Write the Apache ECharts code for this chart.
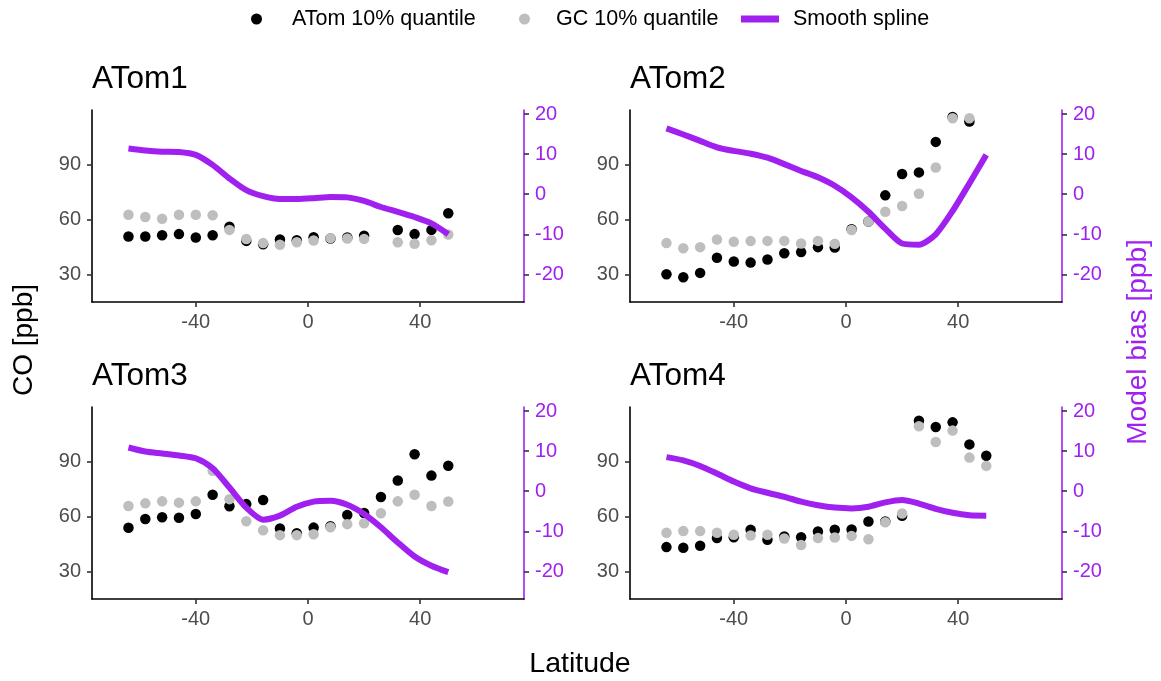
<!DOCTYPE html>
<html>
<head>
<meta charset="utf-8">
<script src="https://cdn.jsdelivr.net/npm/echarts@6/dist/echarts.min.js"></script>
<style>
html, body { margin: 0; padding: 0; background: #fff; }
#chart { width: 1161px; height: 681px; }
</style>
</head>
<body>
<div id="chart"></div>
<script>
// latitude bins (deg)
const lat = [-64, -58, -52, -46, -40, -34, -28, -22, -16, -10, -4, 2, 8, 14, 20, 26, 32, 38, 44, 50];

const atom1 = [50.9, 50.9, 51.6, 52.2, 50.4, 51.6, 56.2, 48.5, 46.7, 49.3, 48.9, 50.5, 49.8, 50.4, 51.3, null, 54.4, 52.2, 54.5, 63.6];
const gc1 = [62.7, 61.5, 60.5, 62.7, 62.7, 62.5, 54.5, 49.5, 47.3, 46.4, 47.8, 48.7, 50.0, 49.8, 49.6, null, 47.8, 46.9, 48.9, 52.0];
const bias1 = [11.4, 10.9, 10.6, 10.5, 9.8, 7.3, 3.9, 1.0, -0.5, -1.2, -1.2, -1.0, -0.7, -0.8, -1.7, -3.2, -4.4, -5.7, -7.3, -10.0];

const atom2 = [30.4, 28.7, 31.1, 39.3, 37.3, 36.7, 38.4, 41.8, 42.4, 45.1, 44.9, 54.9, 59.1, 73.3, 84.9, 85.8, 102.4, 116.0, 113.5, null];
const gc2 = [47.3, 44.5, 45.1, 49.3, 48.0, 48.4, 48.5, 48.5, 47.1, 48.5, 46.9, 54.4, 59.1, 64.4, 67.5, 74.2, 88.5, 115.3, 115.3, null];
const bias2 = [16.4, 14.9, 13.3, 11.7, 10.8, 10.1, 9.1, 7.5, 5.8, 4.2, 2.1, -0.8, -4.4, -8.6, -12.3, -12.6, -10.0, -4.2, 2.7, 9.8];

const atom3 = [54.0, 58.8, 59.7, 59.5, 61.5, 72.0, 65.7, 66.9, 69.1, 53.6, 51.1, 54.1, 54.9, 61.0, 62.1, 70.8, 79.7, 94.0, 82.4, 87.8];
const gc3 = [65.9, 67.3, 68.4, 67.7, 68.4, 85.0, 69.6, 57.6, 52.7, 50.0, 50.0, 50.5, 54.3, 56.0, 56.5, 61.9, 68.4, 72.0, 65.9, 68.3];
const bias3 = [10.9, 9.9, 9.4, 8.9, 8.2, 5.7, 0.9, -4.1, -7.1, -6.1, -3.9, -2.6, -2.4, -3.4, -5.7, -9.0, -12.8, -16.3, -18.6, -20.2];

const atom4 = [43.5, 43.1, 44.2, 48.4, 48.9, 52.9, 47.5, 49.3, 48.9, 52.0, 52.9, 53.1, 57.4, 57.4, 60.6, 112.3, 108.9, 111.4, 99.4, 93.2];
const gc4 = [51.3, 52.2, 52.2, 51.3, 50.2, 49.8, 50.2, 48.2, 44.6, 48.4, 48.7, 49.6, 47.8, 57.0, 61.8, 109.3, 100.7, 106.9, 92.2, 87.7];
const bias4 = [8.5, 7.7, 6.3, 4.4, 2.4, 0.7, -0.4, -1.4, -2.6, -3.5, -4.1, -4.3, -3.9, -2.8, -2.2, -3.1, -4.4, -5.4, -6.0, -6.1];

const panelNames = ["ATom1", "ATom2", "ATom3", "ATom4"];
const atomData = [atom1, atom2, atom3, atom4];
const gcData = [gc1, gc2, gc3, gc4];
const biasData = [bias1, bias2, bias3, bias4];

const xTicks = [-40, 0, 40];
const coTicks = [30, 60, 90];
const biasTicks = [-20, -10, 0, 10, 20];

const font = "'Liberation Sans', Arial, sans-serif";
const purple = "#A020F0";
const gridPos = [
	{left: 92, top: 110},
	{left: 630, top: 110},
	{left: 92, top: 407},
	{left: 630, top: 407},
];

const pairs = (ys) => lat.map((x, k) => [x, ys[k]]).filter((d) => d[1] !== null);

const option = {
	animation: false,
	backgroundColor: "#fff",
	textStyle: {fontFamily: font},
	title: [],
	grid: [],
	xAxis: [],
	yAxis: [],
	series: [],
	legend: [
		{
			data: [{name: "ATom 10% quantile", icon: "circle"}],
			left: 251, top: 8, padding: 0, itemWidth: 11, itemHeight: 11, selectedMode: false,
			textStyle: {fontSize: 21.5, color: "#000", fontFamily: font, padding: [0, 0, 0, 25]},
		},
		{
			data: [{name: "GC 10% quantile", icon: "circle"}],
			left: 519, top: 8, padding: 0, itemWidth: 11, itemHeight: 11, selectedMode: false,
			textStyle: {fontSize: 21.5, color: "#000", fontFamily: font, padding: [0, 0, 0, 21]},
		},
		{
			data: [{name: "Smooth spline", icon: "rect"}],
			left: 741, top: 8, padding: 0, itemWidth: 38, itemHeight: 7, selectedMode: false,
			textStyle: {fontSize: 21.5, color: "#000", fontFamily: font, padding: [0, 0, 0, 9]},
		},
	],
	graphic: [
		{
			type: "text", x: 24, y: 340, rotation: Math.PI / 2,
			style: {text: "CO [ppb]", fontSize: 28, fontFamily: font, fill: "#000", align: "center", verticalAlign: "middle"},
		},
		{
			type: "text", x: 1138, y: 342, rotation: Math.PI / 2,
			style: {text: "Model bias [ppb]", fontSize: 28, fontFamily: font, fill: purple, align: "center", verticalAlign: "middle"},
		},
		{
			type: "text", x: 580, y: 664,
			style: {text: "Latitude", fontSize: 28.5, fontFamily: font, fill: "#000", align: "center", verticalAlign: "middle"},
		},
	],
};

panelNames.forEach((name, i) => {
	const g = gridPos[i];
	option.title.push({
		text: name, left: g.left, top: g.top - 47, padding: 0,
		textStyle: {fontSize: 31.5, fontWeight: "normal", color: "#000", fontFamily: font},
	});
	option.grid.push({left: g.left, top: g.top, width: 432, height: 192});
	option.xAxis.push({
		type: "value", gridIndex: i, min: -77, max: 77,
		axisLine: {onZero: false, lineStyle: {color: "#000", width: 1.6}},
		axisTick: {length: 5, customValues: xTicks, lineStyle: {color: "#333", width: 1.6}},
		axisLabel: {customValues: xTicks, color: "#4D4D4D", fontSize: 20, margin: 10, fontFamily: font},
		splitLine: {show: false},
	});
	// left: CO, right: model bias
	option.yAxis.push({
		type: "value", gridIndex: i, position: "left", min: 15.25, max: 119.75,
		axisLine: {show: true, onZero: false, lineStyle: {color: "#000", width: 1.6}},
		axisTick: {show: true, length: 5, customValues: coTicks, lineStyle: {color: "#333", width: 1.6}},
		axisLabel: {customValues: coTicks, color: "#4D4D4D", fontSize: 20, margin: 11, fontFamily: font},
		splitLine: {show: false},
	});
	option.yAxis.push({
		type: "value", gridIndex: i, position: "right", min: -26.9, max: 21,
		axisLine: {show: true, onZero: false, lineStyle: {color: purple, width: 1.6}},
		axisTick: {show: true, length: 5, customValues: biasTicks, lineStyle: {color: "#333", width: 1.6}},
		axisLabel: {customValues: biasTicks, color: purple, fontSize: 20, margin: 11, fontFamily: font},
		splitLine: {show: false},
	});
	option.series.push({
		name: "ATom 10% quantile", type: "scatter", xAxisIndex: i, yAxisIndex: 2 * i,
		data: pairs(atomData[i]), symbolSize: 10.5, itemStyle: {color: "#000", opacity: 1},
	});
	option.series.push({
		name: "GC 10% quantile", type: "scatter", xAxisIndex: i, yAxisIndex: 2 * i,
		data: pairs(gcData[i]), symbolSize: 10.5, itemStyle: {color: "#BEBEBE", opacity: 1},
	});
	option.series.push({
		name: "Smooth spline", type: "line", xAxisIndex: i, yAxisIndex: 2 * i + 1,
		data: pairs(biasData[i]), showSymbol: false, smooth: 0.25,
		lineStyle: {color: purple, width: 6}, itemStyle: {color: purple},
	});
});

const myChart = echarts.init(document.getElementById("chart"));
myChart.setOption(option);
</script>
</body>
</html>
